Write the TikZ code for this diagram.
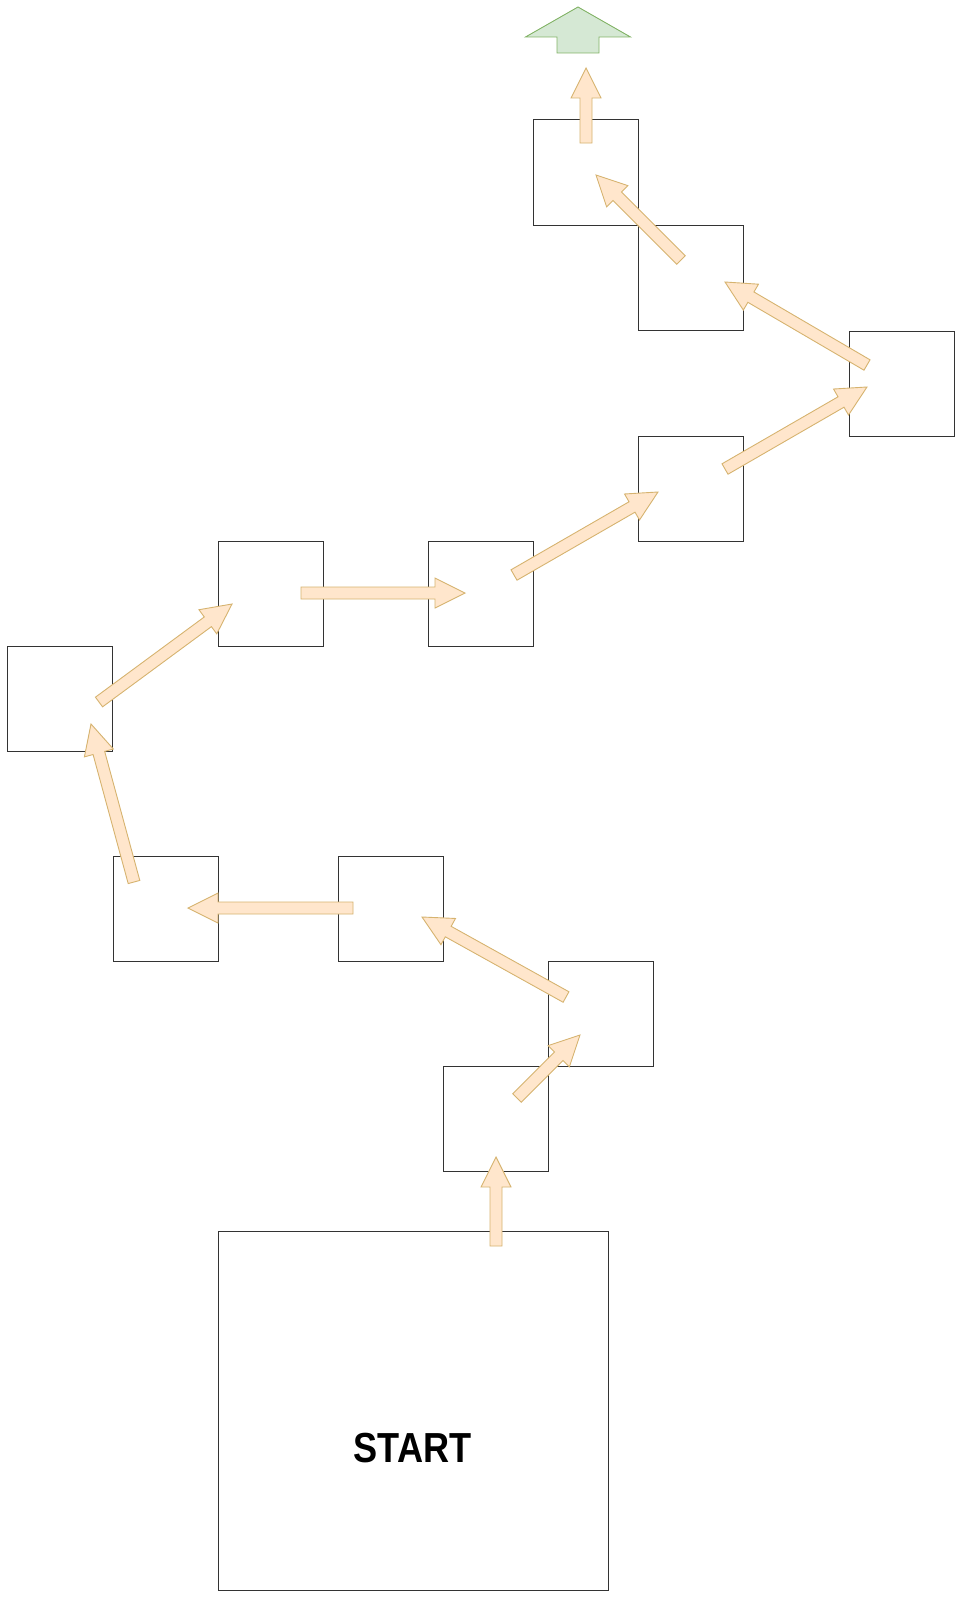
\documentclass[tikz,border=0pt]{standalone}
\usepackage{fontspec}
\setmainfont{Liberation Sans}
\usetikzlibrary{calc}
\definecolor{peachfill}{HTML}{FFE6CC}
\definecolor{peachline}{HTML}{D6B36F}
\definecolor{greenfill}{HTML}{D5E8D4}
\definecolor{greenline}{HTML}{82B366}
\definecolor{boxline}{HTML}{333333}
\newcommand\flexarr[6][peacharrow]{%
  \coordinate (fa-n) at ($(#3)!#6!(#2)$);
  \draw[#1] ($(#2)!#4!90:(#3)$) -- ($(fa-n)!#4!90:(#3)$) -- ($(fa-n)!#5!90:(#3)$) -- (#3)
    -- ($(fa-n)!#5!-90:(#3)$) -- ($(fa-n)!#4!-90:(#3)$) -- ($(#2)!#4!-90:(#3)$) -- cycle;}
\tikzset{
  stepbox/.style={draw=boxline, line width=1pt, fill=white, inner sep=0pt, outer sep=0pt, minimum width=105pt, minimum height=105pt},
  peacharrow/.style={draw=peachline, fill=peachfill, line width=0.9pt, line join=miter},
  greenarrow/.style={draw=greenline, fill=greenfill, line width=0.9pt, line join=miter},
}
\begin{document}
\begin{tikzpicture}[x=1pt, y=-1pt]
\useasboundingbox (0,0) rectangle (962,1600);
% boxes
\node[stepbox] (b1) at (585.5,172.5) {};
\node[stepbox] (b2) at (690.5,277.5) {};
\node[stepbox] (b3) at (901.5,383.5) {};
\node[stepbox] (b4) at (690.5,488.5) {};
\node[stepbox] (b5) at (480.5,593.5) {};
\node[stepbox] (b6) at (270.5,593.5) {};
\node[stepbox] (b7) at (60,698.5) {};
\node[stepbox] (b8) at (165.5,908.5) {};
\node[stepbox] (b9) at (390.5,908.5) {};
\node[stepbox] (b10) at (600.5,1013.5) {};
\node[stepbox] (b11) at (495.5,1118.5) {};
\node[stepbox, minimum width=390pt, minimum height=359pt] (start) at (413,1410.5) {};
\node[inner sep=0pt] (startlabel) at (412.5,1448) {\scalebox{0.86}[1]{\fontsize{42}{42}\selectfont\bfseries START}};
% arrow end points
\coordinate (a1t) at (496,1246);  \coordinate (a1h) at (496,1157);
\coordinate (a2t) at (517,1098);  \coordinate (a2h) at (580,1035);
\coordinate (a3t) at (566,997);   \coordinate (a3h) at (422,917);
\coordinate (a4t) at (353,908);   \coordinate (a4h) at (188,908);
\coordinate (a5t) at (134,882);   \coordinate (a5h) at (91,724);
\coordinate (a6t) at (99,702);    \coordinate (a6h) at (232,604);
\coordinate (a7t) at (301,593);   \coordinate (a7h) at (465,593);
\coordinate (a8t) at (514,575);   \coordinate (a8h) at (658,492);
\coordinate (a9t) at (725,469);   \coordinate (a9h) at (867,387);
\coordinate (a10t) at (867,365);  \coordinate (a10h) at (725,282);
\coordinate (a11t) at (681,260);  \coordinate (a11h) at (596,175);
\coordinate (a12t) at (586,143);  \coordinate (a12h) at (586,68);
\coordinate (gt) at (578,53);     \coordinate (gh) at (578,7);
% arrows
\flexarr{a1t}{a1h}{6pt}{15pt}{30pt}
\flexarr{a2t}{a2h}{6pt}{15pt}{30pt}
\flexarr{a3t}{a3h}{6pt}{15pt}{30pt}
\flexarr{a4t}{a4h}{6pt}{15pt}{30pt}
\flexarr{a5t}{a5h}{6pt}{15pt}{30pt}
\flexarr{a6t}{a6h}{6pt}{15pt}{30pt}
\flexarr{a7t}{a7h}{6pt}{15pt}{30pt}
\flexarr{a8t}{a8h}{6pt}{15pt}{30pt}
\flexarr{a9t}{a9h}{6pt}{15pt}{30pt}
\flexarr{a10t}{a10h}{6pt}{15pt}{30pt}
\flexarr{a11t}{a11h}{6pt}{15pt}{30pt}
\flexarr{a12t}{a12h}{6pt}{15pt}{30pt}
\flexarr[greenarrow]{gt}{gh}{21pt}{52.5pt}{30pt}
\end{tikzpicture}
\end{document}
